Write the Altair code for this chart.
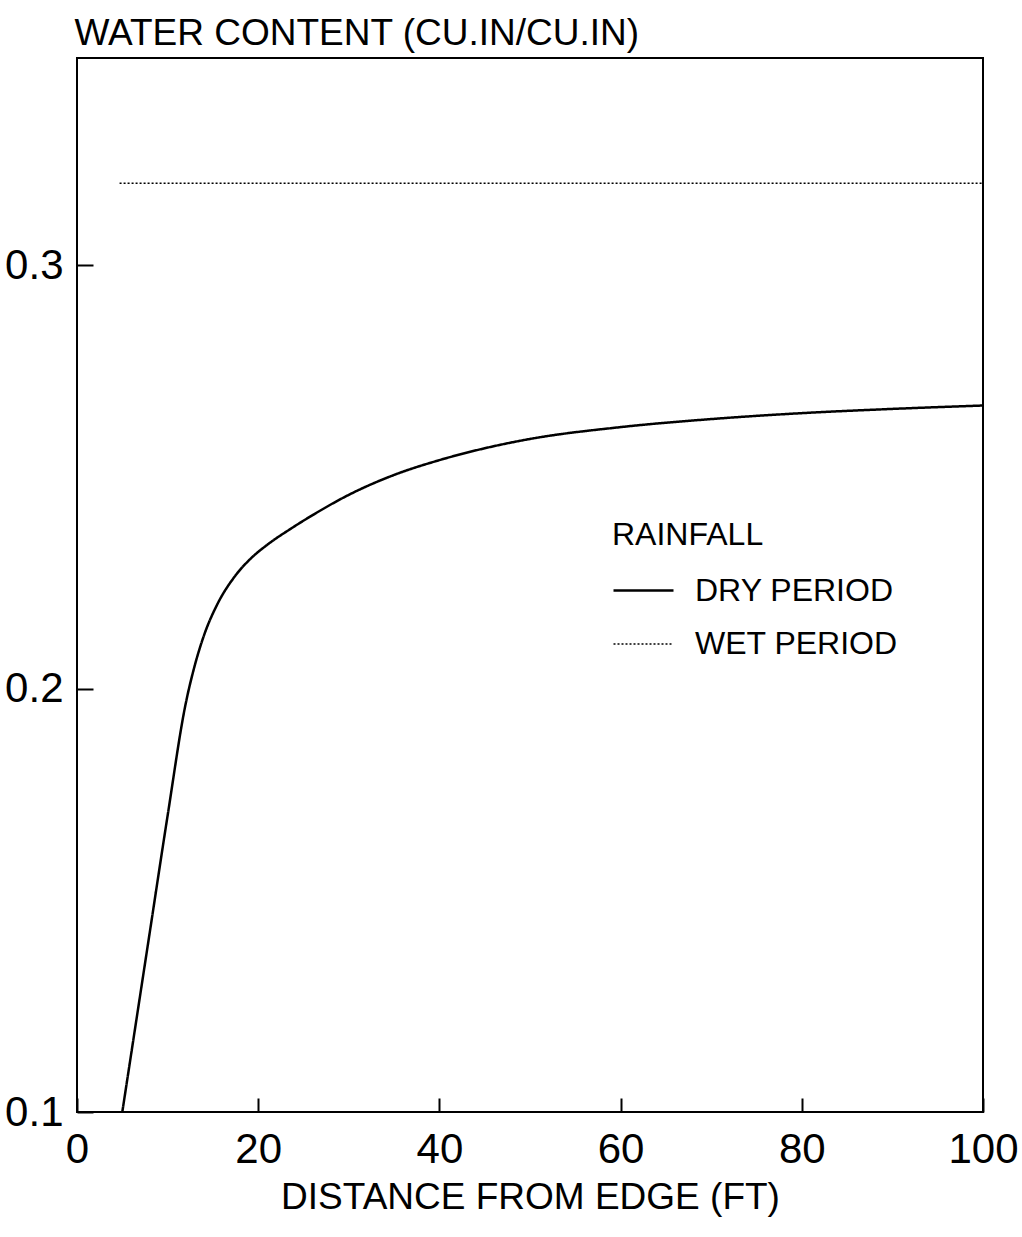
import altair as alt
import pandas as pd

# ---- data ----
dry_x = [5, 8, 10, 12, 13, 14, 15.5, 17.3, 19.2, 21, 23.6, 26, 30, 35, 40, 45, 50,
         60, 70, 80, 90, 100]
dry_y = [0.100, 0.142, 0.170, 0.1965, 0.2055, 0.2125, 0.2200, 0.2262, 0.2308, 0.2340,
         0.2378, 0.2410, 0.2458, 0.2505, 0.2540, 0.2568, 0.2590, 0.2618, 0.2637,
         0.2651, 0.2661, 0.2669]
wet_x = [4.7, 100]
wet_y = [0.3194, 0.3194]
series_names = ["DRY PERIOD", "WET PERIOD"]
x_ticks = [0, 20, 40, 60, 80, 100]
y_ticks = [0.1, 0.2, 0.3]

W, H = 906, 1054
FONT = "Liberation Sans"

df = pd.concat([
    pd.DataFrame({"x": dry_x, "y": dry_y, "series": series_names[0]}),
    pd.DataFrame({"x": wet_x, "y": wet_y, "series": series_names[1]}),
])

xscale = alt.Scale(domain=[0, 100], nice=False, zero=False)
yscale = alt.Scale(domain=[0.1, 0.349], nice=False, zero=False)

lines = alt.Chart(df).mark_line(color="black", interpolate="monotone").encode(
    x=alt.X("x:Q", scale=xscale,
            axis=alt.Axis(values=x_ticks, ticks=False, domain=False, grid=False,
                          labelFontSize=42, labelFont=FONT, labelColor="black",
                          labelPadding=17, labelFlush=False,
                          title="DISTANCE FROM EDGE (FT)", titleFont=FONT,
                          titleFontSize=37, titleFontWeight="normal",
                          titleColor="black", titleY=96, titleBaseline="alphabetic")),
    y=alt.Y("y:Q", scale=yscale,
            axis=alt.Axis(values=y_ticks, format=".1f", ticks=False, domain=False,
                          grid=False, labelFontSize=42, labelFont=FONT,
                          labelColor="black", labelPadding=14, labelFlush=False,
                          title="WATER CONTENT (CU.IN/CU.IN)", titleFont=FONT,
                          titleFontSize=37, titleFontWeight="normal",
                          titleColor="black", titleAngle=0, titleAlign="left",
                          titleBaseline="alphabetic", titleX=-3, titleY=-14)),
    strokeDash=alt.StrokeDash("series:N",
                              scale=alt.Scale(domain=series_names, range=[[1, 0], [2, 2]]),
                              legend=alt.Legend(title="RAINFALL")),
    strokeWidth=alt.StrokeWidth("series:N",
                                scale=alt.Scale(domain=series_names, range=[2.5, 1.5]),
                                legend=alt.Legend(title="RAINFALL")),
    detail="series:N",
)

# inward x ticks: a top axis shifted down onto the bottom edge
xt = alt.Chart(pd.DataFrame({"x": x_ticks})).mark_point(opacity=0).encode(
    x=alt.X("x:Q", scale=xscale,
            axis=alt.Axis(orient="top", values=x_ticks, labels=False, domain=False,
                          grid=False, ticks=True, tickSize=14, tickWidth=2,
                          tickColor="black", title=None, offset=-H)),
)
# inward y ticks: a right axis shifted onto the left edge
yt = alt.Chart(pd.DataFrame({"y": y_ticks})).mark_point(opacity=0).encode(
    y=alt.Y("y:Q", scale=yscale,
            axis=alt.Axis(orient="right", values=y_ticks, labels=False, domain=False,
                          grid=False, ticks=True, tickSize=16, tickWidth=2,
                          tickColor="black", title=None, offset=-W)),
)

chart = alt.layer(lines, xt, yt).resolve_axis(
    x="independent", y="independent"
).properties(
    width=W, height=H,
    autosize=alt.AutoSizeParams(type="none"),
    padding={"left": 77, "top": 58, "right": 39, "bottom": 125},
    background="white",
).configure_view(
    stroke="black", strokeWidth=2
).configure_legend(
    orient="none", legendX=535, legendY=462, padding=0,
    titleFont=FONT, titleFontSize=32, titleFontWeight="normal", titleColor="black",
    titlePadding=7, labelFont=FONT, labelFontSize=32, labelColor="black",
    labelLimit=500, labelOffset=20, rowPadding=6, symbolType="stroke",
    symbolSize=3600, symbolStrokeColor="black", symbolStrokeWidth=2,
)

chart.save("out.html", embed_options={"renderer": "svg", "actions": False})
